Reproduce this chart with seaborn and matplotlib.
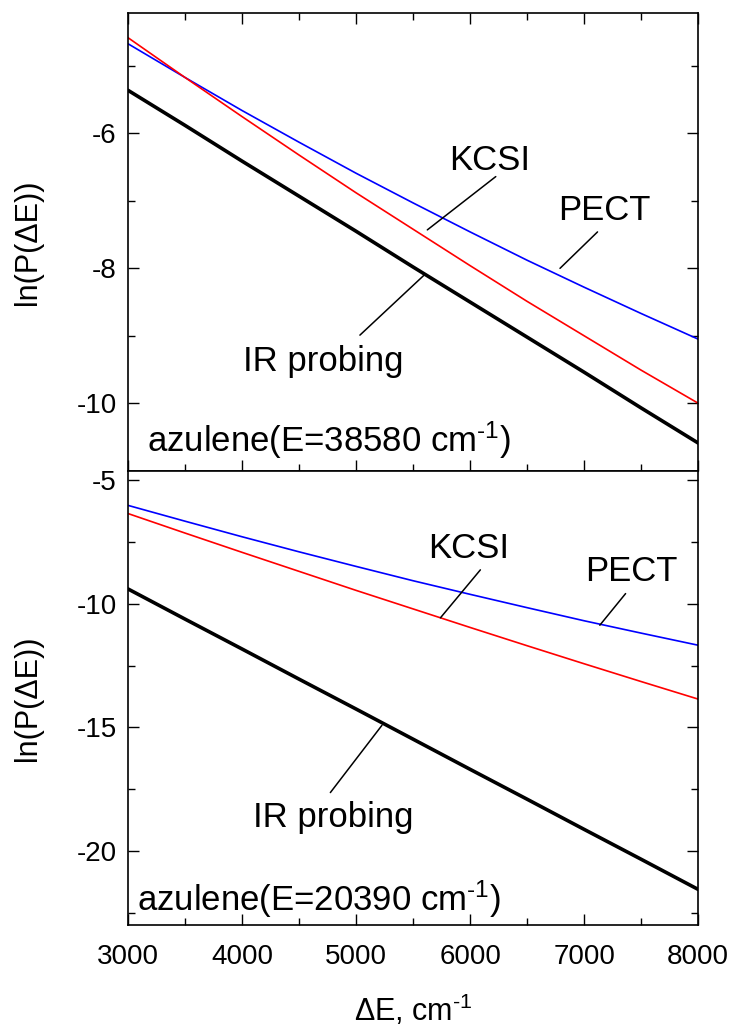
import numpy as np
import pandas as pd
import matplotlib
matplotlib.use("Agg")
import matplotlib.pyplot as plt
import seaborn as sns
from matplotlib.ticker import MultipleLocator

# Energy transferred, cm^-1
delta_e = [3000, 3500, 4000, 4500, 5000, 5500, 6000, 6500, 7000, 7500, 8000]

# azulene, E = 38580 cm^-1
hi_pect = [-4.67, -5.17, -5.66, -6.13, -6.59, -7.03, -7.46, -7.88, -8.28, -8.67, -9.05]
hi_kcsi = [-4.58, -5.17, -5.75, -6.32, -6.88, -7.42, -7.96, -8.49, -9.00, -9.51, -10.00]
hi_ir = [-5.36, -5.88, -6.41, -6.93, -7.45, -7.98, -8.50, -9.02, -9.54, -10.07, -10.59]

# azulene, E = 20390 cm^-1
lo_pect = [-6.02, -6.66, -7.29, -7.90, -8.49, -9.07, -9.62, -10.16, -10.69, -11.19, -11.68]
lo_kcsi = [-6.35, -7.14, -7.92, -8.69, -9.46, -10.21, -10.96, -11.70, -12.43, -13.15, -13.86]
lo_ir = [-9.40, -10.62, -11.83, -13.05, -14.26, -15.48, -16.70, -17.91, -19.13, -20.34, -21.56]

x_ticks = [3000, 4000, 5000, 6000, 7000, 8000]
top_yticks = [-10, -8, -6]
bottom_yticks = [-20, -15, -10, -5]

sns.set_style("ticks")
plt.rcParams["font.family"] = ["Liberation Sans", "DejaVu Sans"]
plt.rcParams["mathtext.fontset"] = "custom"
plt.rcParams["mathtext.rm"] = "Liberation Sans"
plt.rcParams["mathtext.it"] = "Liberation Sans:italic"
plt.rcParams["mathtext.bf"] = "Liberation Sans:bold"
plt.rcParams["axes.unicode_minus"] = False
plt.rcParams["text.color"] = "black"
plt.rcParams["axes.labelcolor"] = "black"
plt.rcParams["xtick.color"] = "black"
plt.rcParams["ytick.color"] = "black"

TICK_FS = 20
NOTE_FS = 25
LABEL_FS = 22
INV_CM = "cm$^{\u2010\\mathrm{1}}$"

fig = plt.figure(figsize=(7.35, 10.33), dpi=100)
ax_top = fig.add_axes([0.174, 0.5443, 0.776, 0.4428])
ax_bot = fig.add_axes([0.174, 0.1045, 0.776, 0.4398], sharex=ax_top)


def draw_panel(ax, pect, kcsi, ir):
    df = pd.DataFrame({"dE": delta_e, "PECT": pect, "KCSI": kcsi, "IR": ir})
    sns.lineplot(data=df, x="dE", y="PECT", ax=ax, color="#0000ff", lw=1.2)
    sns.lineplot(data=df, x="dE", y="KCSI", ax=ax, color="#ff0000", lw=1.2)
    sns.lineplot(data=df, x="dE", y="IR", ax=ax, color="black", lw=2.6)
    ax.set_xlim(3000, 8000)
    ax.xaxis.set_major_locator(MultipleLocator(1000))
    ax.xaxis.set_minor_locator(MultipleLocator(500))
    ax.tick_params(which="both", direction="in", top=True, right=True,
                   width=1.0, colors="black", labelsize=TICK_FS)
    ax.tick_params(which="major", length=8)
    ax.tick_params(which="minor", length=5)
    ax.tick_params(axis="y", pad=8)
    ax.tick_params(axis="x", pad=14)
    for s in ax.spines.values():
        s.set_linewidth(1.2)
        s.set_color("black")
    ax.set_ylabel("ln(P(\u0394E))", fontsize=LABEL_FS)
    ax.yaxis.set_label_coords(-0.149, 0.5)


def pointer(ax, xy_from, xy_to):
    ax.plot([xy_from[0], xy_to[0]], [xy_from[1], xy_to[1]], color="black", lw=1.1)


# upper panel
draw_panel(ax_top, hi_pect, hi_kcsi, hi_ir)
ax_top.set_ylim(-11.0, -4.22)
ax_top.set_yticks(top_yticks)
ax_top.yaxis.set_minor_locator(MultipleLocator(1))
ax_top.tick_params(axis="x", labelbottom=False)
ax_top.set_xlabel("")
ax_top.text(6172, -6.40, "KCSI", fontsize=NOTE_FS, ha="center", va="center")
pointer(ax_top, (6225, -6.64), (5625, -7.43))
ax_top.text(7178, -7.14, "PECT", fontsize=NOTE_FS, ha="center", va="center")
pointer(ax_top, (7117, -7.46), (6788, -8.0))
ax_top.text(4713, -9.38, "IR probing", fontsize=NOTE_FS, ha="center", va="center")
pointer(ax_top, (5034, -8.99), (5597, -8.10))
ax_top.text(3164, -10.55, "azulene(E=38580 " + INV_CM + ")", fontsize=NOTE_FS,
            ha="left", va="center")

# lower panel
draw_panel(ax_bot, lo_pect, lo_kcsi, lo_ir)
ax_bot.set_ylim(-23.0, -4.62)
ax_bot.set_yticks(bottom_yticks)
ax_bot.yaxis.set_minor_locator(MultipleLocator(2.5))
ax_bot.tick_params(which="both", top=False)
ax_bot.set_xticks(x_ticks)
ax_bot.text(5987, -7.75, "KCSI", fontsize=NOTE_FS, ha="center", va="center")
pointer(ax_bot, (6090, -8.63), (5740, -10.57))
ax_bot.text(7417, -8.70, "PECT", fontsize=NOTE_FS, ha="center", va="center")
pointer(ax_bot, (7363, -9.59), (7137, -10.87))
ax_bot.text(4804, -18.64, "IR probing", fontsize=NOTE_FS, ha="center", va="center")
pointer(ax_bot, (4775, -17.64), (5227, -14.92))
ax_bot.text(3078, -21.96, "azulene(E=20390 " + INV_CM + ")", fontsize=NOTE_FS,
            ha="left", va="center")
ax_bot.set_xlabel("\u0394E, " + INV_CM, fontsize=LABEL_FS)
ax_bot.xaxis.set_label_coords(0.5, -0.15)

fig.savefig("out.png", dpi=100, facecolor="white")
